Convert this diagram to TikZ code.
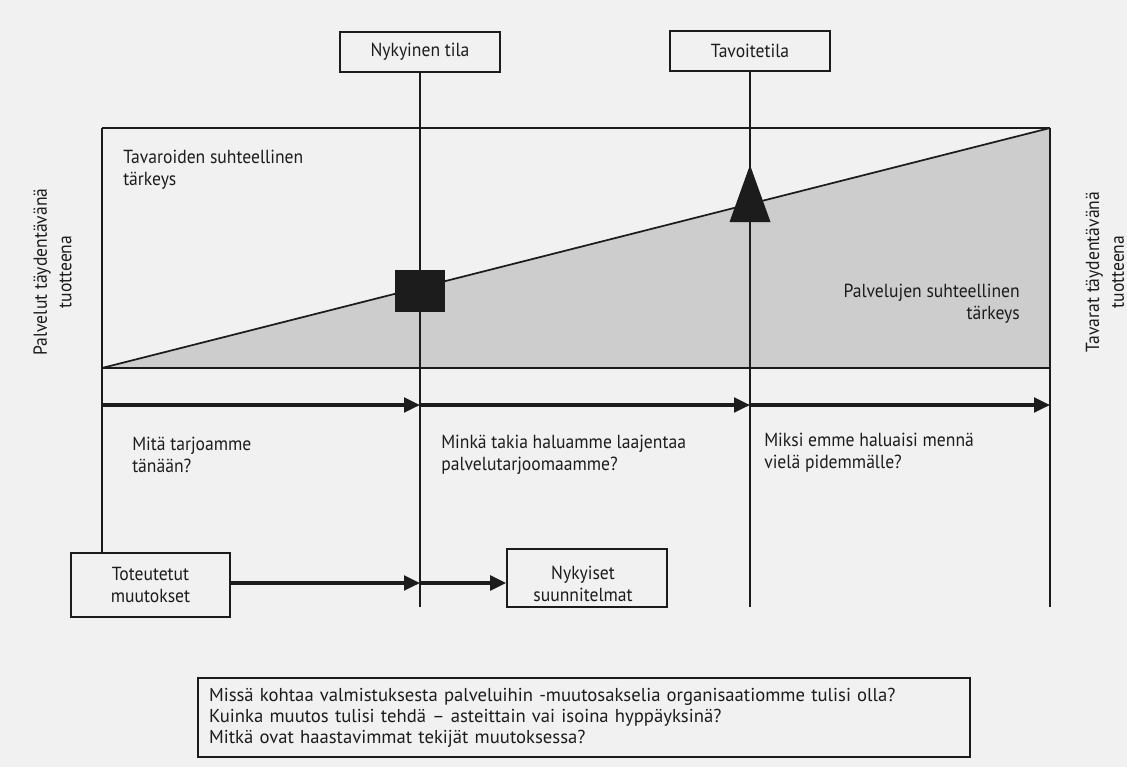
\documentclass[tikz,border=0pt]{standalone}
\usepackage{fontspec}
\setmainfont{PT Sans}[FakeStretch=0.93]
\newfontfamily\widesans{PT Sans}[Ligatures=TeX]
\usetikzlibrary{arrows.meta}
\definecolor{paper}{HTML}{F1F1F1}
\definecolor{greyfill}{HTML}{CDCDCD}
\definecolor{ink}{HTML}{1C1C1C}

\begin{document}
\begin{tikzpicture}[x=0.75pt, y=-0.75pt,
  every node/.style={font=\fontsize{14.2}{16.5}\selectfont, text=ink},
  frame/.style={draw=ink, line width=1.3pt},
  labelbox/.style={frame, fill=paper, inner sep=0pt, align=center},
  note/.style={inner sep=0pt, align=left},
  flow/.style={draw=ink, line width=2.4pt, -{Triangle[length=12pt,width=11pt]}},
  axislbl/.style={rotate=90, align=center, inner sep=0pt,
                  font=\fontsize{14.2}{18.5}\selectfont}
]
% page
\fill[paper] (0,0) rectangle (1127,767);
\useasboundingbox (0,0) rectangle (1127,767);

% corner and end points of the frame
\coordinate (tl) at (102,128);
\coordinate (tr) at (1050,128);
\coordinate (bl) at (102,368);
\coordinate (br) at (1050,368);
\coordinate (aEnd) at (420,607);
\coordinate (bEnd) at (750,607);
\coordinate (rEnd) at (1050,607);
\coordinate (r0) at (102,405);
\coordinate (r1) at (420,405);
\coordinate (r2) at (750,405);
\coordinate (r3) at (1050,405);
\coordinate (m) at (420,583);

% shaded share of services
\fill[greyfill] (bl) -- (tr) -- (br) -- cycle;

% labelled boxes
\node[labelbox, minimum width=120pt, minimum height=30pt] (nyk) at (420,52) {Nykyinen tila};
\node[labelbox, minimum width=120pt, minimum height=30pt] (tav) at (750,51) {Tavoitetila};
\node[labelbox, minimum width=119.25pt, minimum height=48pt] (tot) at (150.5,585) {Toteutetut\\muutokset};
\node[labelbox, minimum width=120pt, minimum height=43.5pt] (nys) at (587,578) {};
\node[inner sep=0pt, align=center] (nysTxt) at (583,584) {Nykyiset\\suunnitelmat};
\node[frame, fill=paper, inner xsep=8.25pt, inner ysep=0pt, text width=562.5pt,
      minimum height=59.25pt, align=left,
      font=\widesans\fontsize{14}{15.75}\selectfont] (q) at (584,717.5)
  {Missä kohtaa valmistuksesta palveluihin -muutosakselia organisaatiomme tulisi olla?\\
   Kuinka muutos tulisi tehdä – asteittain vai isoina hyppäyksinä?\\
   Mitkä ovat haastavimmat tekijät muutoksessa?};

% frame, diagonal and time lines
\draw[frame] (tl) -- (tr);
\draw[frame] (bl) -- (br);
\draw[frame] (tl) -- (tl |- tot.north);
\draw[frame] (tr) -- (rEnd);
\draw[frame] (bl) -- (tr);
\draw[frame] (nyk) -- (aEnd);
\draw[frame] (tav) -- (bEnd);

% markers for the present and target state
\node[fill=ink, inner sep=0pt, minimum width=37.5pt, minimum height=31.5pt] (nowMark) at (420,291) {};
\fill[ink] (750,165) -- (770.5,222) -- (729.5,222) -- cycle;

% arrows
\draw[flow] (r0) -- (r1);
\draw[flow] (r1) -- (r2);
\draw[flow] (r2) -- (r3);
\draw[flow] (tot.east |- m) -- (m);
\draw[flow] (m) -- (m -| nys.west);

% texts
\node[note, anchor=west] (goodsTxt) at (123,170) {Tavaroiden suhteellinen\\tärkeys};
\node[note, anchor=east, align=right] (svcTxt) at (1020,304) {Palvelujen suhteellinen\\tärkeys};
\node[note, anchor=west] (q1) at (132,455) {Mitä tarjoamme\\tänään?};
\node[note, anchor=west] (q2) at (441,455) {Minkä takia haluamme laajentaa\\palvelutarjoomaamme?};
\node[note, anchor=west] (q3) at (764,453) {Miksi emme haluaisi mennä\\vielä pidemmälle?};
\node[axislbl] (svcAxis) at (52.5,272) {Palvelut täydentävänä\\tuotteena};
\node[axislbl] (goodsAxis) at (1105,272) {Tavarat täydentävänä\\tuotteena};
\end{tikzpicture}
\end{document}
